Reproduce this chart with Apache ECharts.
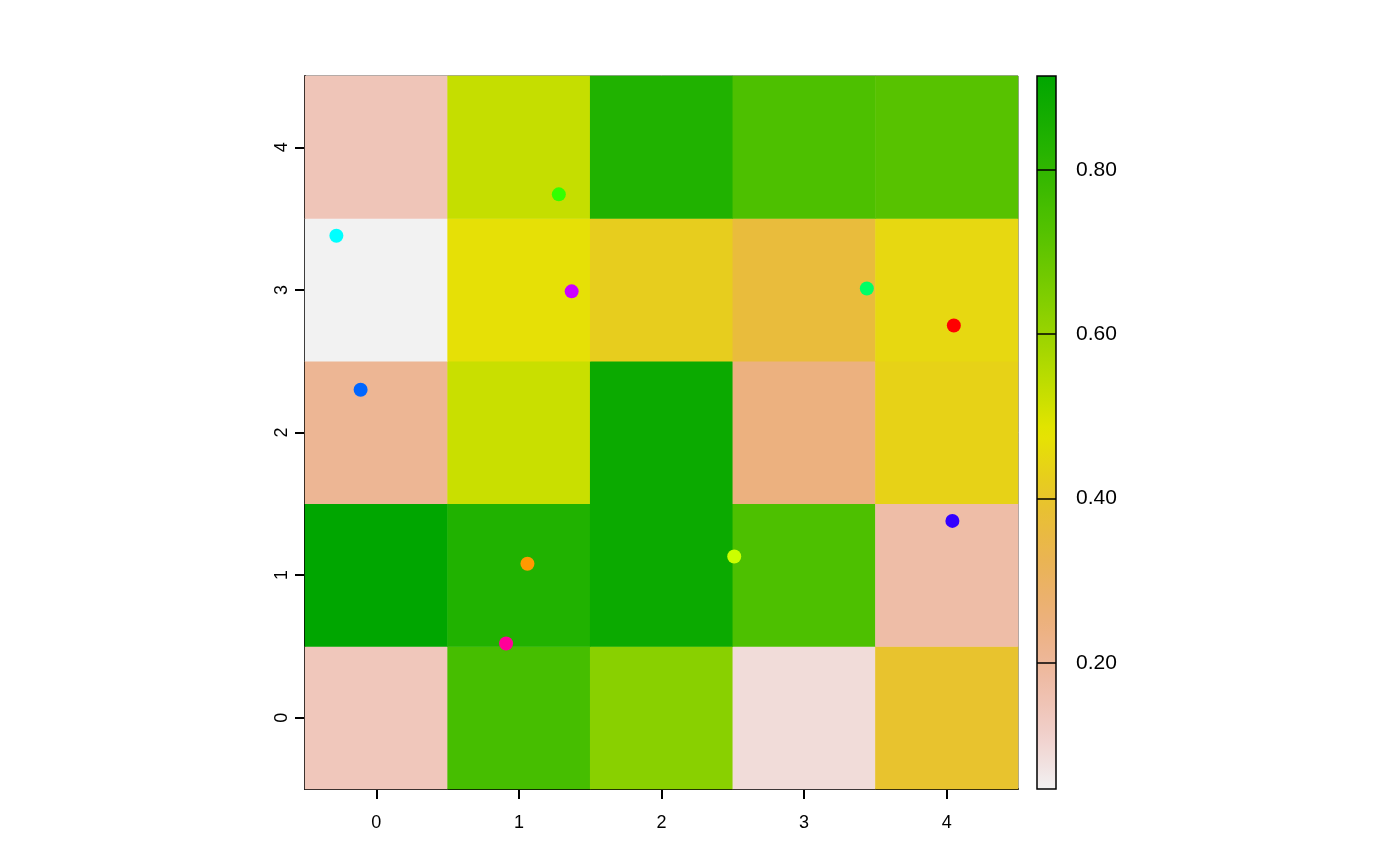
<!DOCTYPE html>
<html>
<head>
<meta charset="utf-8">
<title>Raster with points</title>
<script src="https://cdn.jsdelivr.net/npm/echarts@6/dist/echarts.min.js"></script>
<style>
  html, body { margin: 0; padding: 0; background: #fff; }
  #chart { width: 1400px; height: 866px; }
</style>
</head>
<body>
<div id="chart"></div>
<script>
// === Données ===
const cols = [0, 1, 2, 3, 4];
const rows = [0, 1, 2, 3, 4];
// valeurs des cellules, une ligne par y (de y=0 à y=4), colonnes x=0..4
const row0 = [0.142, 0.754, 0.628, 0.090, 0.394];
const row1 = [0.914, 0.836, 0.888, 0.740, 0.177];
const row2 = [0.210, 0.524, 0.888, 0.247, 0.437];
const row3 = [0.047, 0.470, 0.424, 0.368, 0.450];
const row4 = [0.147, 0.530, 0.836, 0.740, 0.720];
const cellRows = [row0, row1, row2, row3, row4];

// points
const ptX = [4.05, 1.06, 2.51, 1.28, 3.44, -0.28, -0.11, 4.04, 1.37, 0.91];
const ptY = [2.75, 1.08, 1.13, 3.67, 3.01, 3.38, 2.30, 1.38, 2.99, 0.52];
const ptColors = ["#FF0000", "#FF9900", "#CCFF00", "#33FF00", "#00FF66",
                  "#00FFFF", "#0066FF", "#3300FF", "#CC00FF", "#FF0099"];

// échelle de couleur
const zMin = 0.047;
const zMax = 0.914;
const xTicks = [0, 1, 2, 3, 4];
const yTicks = [0, 1, 2, 3, 4];
const barTicks = [0.2, 0.4, 0.6, 0.8];

// palette "terrain" (vert -> jaune -> beige -> blanc)
function hsv(h, s, v) {
    const i = Math.floor(h * 6) % 6, f = h * 6 - Math.floor(h * 6);
    const p = v * (1 - s), q = v * (1 - f * s), t = v * (1 - (1 - f) * s);
    const rgb = [[v, t, p], [q, v, p], [p, v, t], [p, q, v], [t, p, v], [v, p, q]][i];
    return "rgb(" + rgb.map(c => Math.round(c * 255)).join(",") + ")";
}
function terrain(u) { // u = 0 -> vert, u = 1 -> blanc
    if (u <= 0.5) {
        const w = u / 0.5;
        return hsv(4 / 12 - w * 2 / 12, 1, 0.65 + w * 0.25);
    }
    const w = (u - 0.5) / 0.5;
    return hsv(2 / 12 * (1 - w), 1 - w, 0.9 + w * 0.05);
}
const N = 60;
const ramp = []; // du min au max
for (let i = 0; i < N; i++) ramp.push(terrain(1 - i / (N - 1)));

const heatData = [];
cellRows.forEach((r, y) => r.forEach((v, x) => heatData.push([x, y, v])));
const pointData = ptX.map((x, i) => ({ value: [x, ptY[i]], itemStyle: { color: ptColors[i], opacity: 1 } }));

const chart = echarts.init(document.getElementById("chart"));
const font = "Liberation Sans, Arial, sans-serif";

const option = {
    backgroundColor: "#fff",
    animation: false,
    grid: [
        { left: 305, top: 76, width: 713, height: 713, show: true, borderColor: "#444", borderWidth: 1, backgroundColor: "transparent" },
        { left: 305, top: 76, width: 713, height: 713 },
        { left: 1037, top: 76, width: 19, height: 713, show: true, borderColor: "#000", borderWidth: 1.5,
          backgroundColor: new echarts.graphic.LinearGradient(0, 1, 0, 0,
              ramp.map((c, i) => ({ offset: i / (N - 1), color: c }))) }
    ],
    visualMap: {
        show: false,
        type: "continuous",
        min: zMin,
        max: zMax,
        seriesIndex: 0,
        inRange: { color: ramp }
    },
    xAxis: [
        { gridIndex: 0, type: "category", data: cols, show: false },
        {
            gridIndex: 1, type: "value", min: -0.5, max: 4.5,
            axisLine: { show: true, onZero: false, lineStyle: { color: "#000", width: 2 } },
            axisTick: { show: true, length: 10, customValues: xTicks, lineStyle: { color: "#000", width: 2 } },
            axisLabel: { customValues: xTicks, color: "#000", fontSize: 18, fontFamily: font, margin: 25 },
            splitLine: { show: false }
        },
        { gridIndex: 2, type: "value", show: false }
    ],
    yAxis: [
        { gridIndex: 0, type: "category", data: rows, show: false },
        {
            gridIndex: 1, type: "value", min: -0.5, max: 4.5,
            axisLine: { show: true, onZero: false, lineStyle: { color: "#000", width: 2 } },
            axisTick: { show: true, length: 10, customValues: yTicks, lineStyle: { color: "#000", width: 2 } },
            axisLabel: { customValues: yTicks, color: "#000", fontSize: 18, fontFamily: font, rotate: 90, margin: 14 },
            splitLine: { show: false }
        },
        {
            gridIndex: 2, type: "value", position: "right", min: zMin, max: zMax,
            axisLine: { show: false },
            axisTick: { show: true, length: 6, customValues: barTicks, lineStyle: { color: "#000", width: 1.5 } },
            axisLabel: {
                customValues: barTicks, color: "#000", fontSize: 21, fontFamily: font, margin: 20,
                formatter: v => v.toFixed(2)
            },
            splitLine: { show: false }
        },
        {
            gridIndex: 2, type: "value", position: "right", min: zMin, max: zMax,
            axisLine: { show: false },
            axisTick: { show: true, inside: true, length: 19, customValues: barTicks, lineStyle: { color: "#000", width: 1.5 } },
            axisLabel: { show: false },
            splitLine: { show: false }
        }
    ],
    series: [
        {
            type: "heatmap",
            xAxisIndex: 0,
            yAxisIndex: 0,
            data: heatData,
            itemStyle: { borderWidth: 0 },
            emphasis: { disabled: true }
        },
        {
            type: "scatter",
            xAxisIndex: 1,
            yAxisIndex: 1,
            symbol: "circle",
            symbolSize: 14,
            data: pointData,
            emphasis: { disabled: true },
            z: 5
        }
    ]
};

chart.setOption(option);
window.addEventListener("resize", () => chart.resize());
</script>
</body>
</html>
